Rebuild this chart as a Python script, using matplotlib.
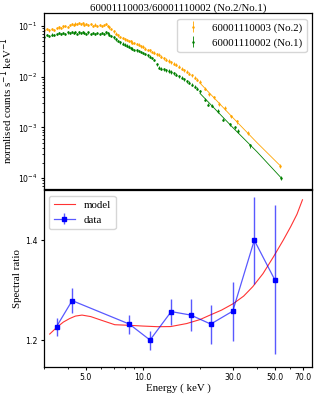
import matplotlib
matplotlib.use("Agg")
import matplotlib.pyplot as plt
from matplotlib.ticker import FixedLocator, FormatStrFormatter, NullFormatter, LogLocator

# ---------------- data ----------------
title = "60001110003/60001110002 (No.2/No.1)"
label_no2 = "60001110003 (No.2)"
label_no1 = "60001110002 (No.1)"

energy_dense = [3.0, 3.1, 3.2, 3.3, 3.4, 3.5, 3.6, 3.7, 3.8, 3.9, 4.0, 4.1, 4.2, 4.3, 4.4,
                4.5, 4.6, 4.7, 4.8, 4.9, 5.0, 5.15, 5.3, 5.45, 5.6, 5.75, 5.9, 6.05, 6.2,
                6.35, 6.5, 6.65, 6.8, 7.0, 7.2, 7.4, 7.6, 7.8, 8.0, 8.2, 8.4, 8.6, 8.8,
                9.0, 9.25, 9.5, 9.75, 10.0, 10.3, 10.6, 10.9, 11.2, 11.5, 11.8, 12.1, 12.5,
                12.9, 13.3, 13.7, 14.1, 14.5, 15.0, 15.5, 16.0, 16.5, 17.0, 17.6, 18.2,
                18.8, 19.4, 20.0]

no2_dense = [0.083, 0.086, 0.082, 0.088, 0.085, 0.090, 0.094, 0.091, 0.098, 0.102, 0.097,
             0.105, 0.110, 0.104, 0.112, 0.108, 0.115, 0.109, 0.113, 0.106, 0.111, 0.104,
             0.109, 0.102, 0.107, 0.100, 0.105, 0.099, 0.104, 0.108, 0.101, 0.094, 0.086,
             0.079, 0.071, 0.066, 0.061, 0.058, 0.055, 0.053, 0.051, 0.050, 0.047, 0.046,
             0.044, 0.043, 0.040, 0.039, 0.036, 0.034, 0.033, 0.031, 0.030, 0.028, 0.027,
             0.025, 0.023, 0.0215, 0.0205, 0.0195, 0.0180, 0.0172, 0.0158, 0.0145, 0.0135,
             0.0126, 0.0114, 0.0106, 0.0095, 0.0087, 0.0080]

no1_dense = [0.062, 0.066, 0.063, 0.068, 0.066, 0.070, 0.072, 0.069, 0.074, 0.071, 0.075,
             0.072, 0.077, 0.073, 0.076, 0.071, 0.075, 0.072, 0.077, 0.073, 0.070, 0.075,
             0.071, 0.074, 0.069, 0.073, 0.070, 0.074, 0.071, 0.075, 0.072, 0.068, 0.064,
             0.060, 0.055, 0.051, 0.048, 0.045, 0.043, 0.041, 0.039, 0.037, 0.036, 0.034,
             0.033, 0.032, 0.031, 0.0295, 0.028, 0.0265, 0.025, 0.0235, 0.0215, 0.0175,
             0.0150, 0.0145, 0.0140, 0.0135, 0.0130, 0.0124, 0.0118, 0.0110, 0.0103,
             0.0096, 0.0090, 0.0082, 0.0076, 0.0069, 0.0063, 0.0058, 0.0052]

dense_relerr = [0.05] * 33 + [0.06] * 20 + [0.07] * 18

no2_sparse_e = [21.2, 22.4, 23.7, 25.2, 27.0, 29.0, 31.5, 35.8, 52.7]
no2_sparse = [0.0058, 0.0045, 0.0039, 0.0029, 0.0024, 0.00165, 0.00131, 0.00079, 0.000175]
no2_sparse_relerr = [0.07, 0.07, 0.07, 0.08, 0.08, 0.08, 0.09, 0.09, 0.10]

no1_sparse_e = [21.3, 22.1, 23.2, 24.9, 26.6, 28.9, 30.6, 31.9, 36.6, 53.8]
no1_sparse = [0.0035, 0.0028, 0.0027, 0.0021, 0.00143, 0.00115, 0.0010, 0.00084, 0.00044, 0.0001]
no1_sparse_relerr = [0.07, 0.07, 0.07, 0.08, 0.08, 0.08, 0.09, 0.09, 0.09, 0.10]

model_e_no2 = [20.0, 30.0, 40.0, 52.7]
model_no2 = [0.0075, 0.00152, 0.00050, 0.00018]
model_e_no1 = [20.0, 30.0, 40.0, 53.8]
model_no1 = [0.0047, 0.00097, 0.00033, 0.0001]

ratio_e = [3.50, 4.23, 8.47, 10.9, 14.1, 17.9, 22.8, 29.8, 38.7, 49.6]
ratio = [1.227, 1.279, 1.232, 1.200, 1.257, 1.250, 1.232, 1.258, 1.400, 1.321]
ratio_err = [0.018, 0.025, 0.019, 0.019, 0.026, 0.032, 0.039, 0.059, 0.087, 0.149]

model_ratio_e = [3.22, 3.5, 3.8, 4.1, 4.4, 4.77, 5.3, 6.0, 7.1, 8.5, 10.0, 12.0, 14.0, 17.0,
                 20.0, 22.6, 26.0, 30.0, 34.0, 38.0, 43.0, 48.9, 55.0, 60.2, 65.0, 69.5]
model_ratio = [1.212, 1.225, 1.236, 1.243, 1.248, 1.250, 1.247, 1.240, 1.2307, 1.2295,
               1.2280, 1.2267, 1.2270, 1.233, 1.241, 1.250, 1.260, 1.273, 1.288, 1.307,
               1.333, 1.367, 1.400, 1.427, 1.452, 1.481]

xticks = [5.0, 10.0, 30.0, 50.0, 70.0]
ratio_yticks = [1.2, 1.4]

# ---------------- plot ----------------
serif = ["Liberation Serif", "DejaVu Serif"]
plt.rcParams["font.family"] = ["DejaVu Sans"]
plt.rcParams["xtick.labelsize"] = 5.6
plt.rcParams["ytick.labelsize"] = 5.6
plt.rcParams["xtick.major.size"] = 2.5
plt.rcParams["ytick.major.size"] = 2.5
plt.rcParams["xtick.minor.size"] = 1.5
plt.rcParams["ytick.minor.size"] = 1.5
plt.rcParams["xtick.major.pad"] = 2
plt.rcParams["ytick.major.pad"] = 2
plt.rcParams["axes.linewidth"] = 0.9

fig = plt.figure(figsize=(3.18, 3.97), dpi=100)
ax1 = fig.add_axes([0.138, 0.524, 0.843, 0.443])
ax2 = fig.add_axes([0.138, 0.0756, 0.843, 0.445], sharex=ax1)

fs = 7.8

def abserr(vals, rel):
    return [v * r for v, r in zip(vals, rel)]

e2 = energy_dense + no2_sparse_e
v2 = no2_dense + no2_sparse
r2 = dense_relerr + no2_sparse_relerr
e1 = energy_dense + no1_sparse_e
v1 = no1_dense + no1_sparse
r1 = dense_relerr + no1_sparse_relerr

ax1.plot(model_e_no2, model_no2, color="orange", lw=0.6)
ax1.plot(model_e_no1, model_no1, color="green", lw=0.6)
ax1.errorbar(e2, v2, yerr=abserr(v2, r2), fmt=".", color="orange", ms=1.6,
             elinewidth=0.6, capsize=0, label=label_no2)
ax1.errorbar(e1, v1, yerr=abserr(v1, r1), fmt=".", color="green", ms=1.6,
             elinewidth=0.6, capsize=0, label=label_no1)
ax1.set_xscale("log")
ax1.set_yscale("log")
ax1.set_xlim(3.0, 78)
ax1.set_ylim(6.1e-5, 0.18)
ax1.tick_params(axis="x", which="both", bottom=False, labelbottom=False)
ax1.set_ylabel("normlised counts s$^{-1}$ keV$^{-1}$", family=serif, fontsize=fs, labelpad=2)
ax1.set_title(title, family=serif, fontsize=fs, pad=2)
ax1.legend(loc="upper right", prop={"family": serif, "size": fs}, borderaxespad=0.5)

ax2.plot(model_ratio_e, model_ratio, color="red", lw=0.8, alpha=0.8, label="model")
ax2.errorbar(ratio_e, ratio, yerr=ratio_err, fmt="s-", color=(0.0, 0.0, 1.0, 0.65),
             mfc="blue", mec="blue", ms=3.5, lw=0.9, elinewidth=1.0, capsize=0,
             label="data")
ax2.set_ylim(1.146, 1.5)
ax2.yaxis.set_major_locator(FixedLocator(ratio_yticks))
ax2.yaxis.set_major_formatter(FormatStrFormatter("%.1f"))
ax2.xaxis.set_major_locator(FixedLocator(xticks))
ax2.xaxis.set_major_formatter(FormatStrFormatter("%.1f"))
ax2.xaxis.set_minor_locator(LogLocator(base=10, subs=range(2, 10)))
ax2.xaxis.set_minor_formatter(NullFormatter())
ax2.set_xlabel("Energy ( keV )", family=serif, fontsize=fs, labelpad=1)
ax2.set_ylabel("Spectral ratio", family=serif, fontsize=fs, labelpad=2)
ax2.legend(loc="upper left", prop={"family": serif, "size": fs}, borderaxespad=0.5)

fig.savefig("out.png", dpi=100)
